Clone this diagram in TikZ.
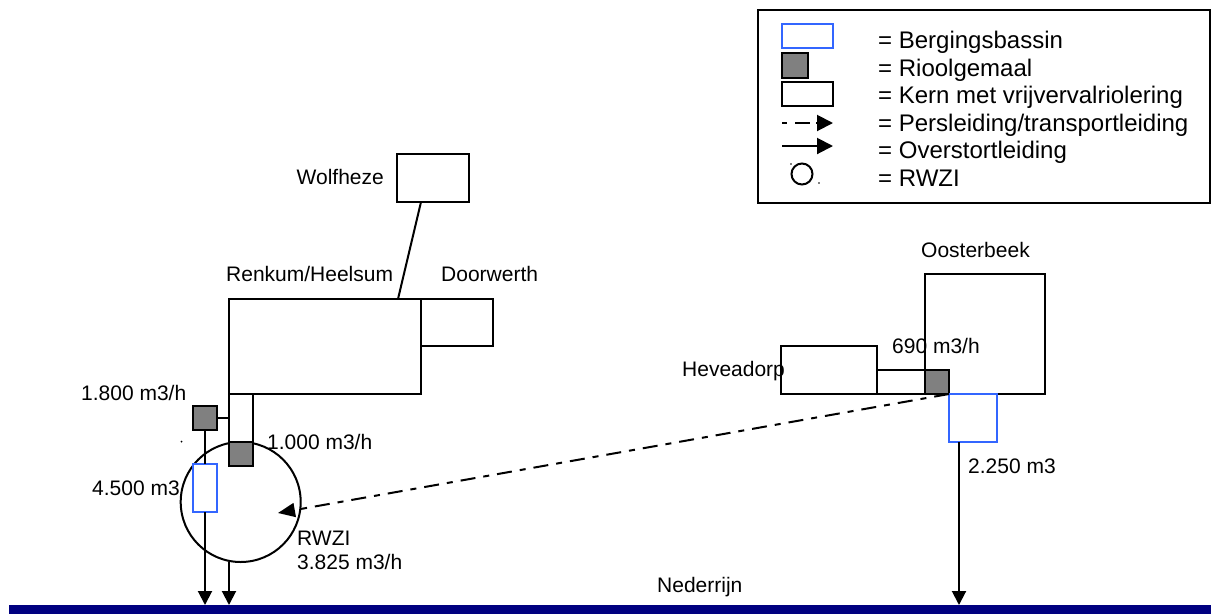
\documentclass[tikz,border=0pt]{standalone}
\usepackage{fontspec}
\setmainfont{Liberation Sans}
\usetikzlibrary{arrows.meta,calc}
\definecolor{bassinblue}{RGB}{51,102,255}
\definecolor{gemaalgray}{RGB}{128,128,128}
\definecolor{rivernavy}{RGB}{0,0,128}
\tikzset{
  pipe/.style={line width=2pt},
  kern/.style={draw, line width=2pt, fill=white, inner sep=0pt, outer sep=0pt},
  gemaal/.style={kern, fill=gemaalgray, minimum width=24pt, minimum height=24pt},
  bassin/.style={draw=bassinblue, line width=2pt, fill=white, inner sep=0pt, outer sep=0pt},
  rwzi/.style={circle, draw, line width=2pt, inner sep=0pt, outer sep=0pt},
  lbl/.style={inner sep=0pt, font=\fontsize{21pt}{25pt}\selectfont, text height=15pt, text depth=0pt},
  legtext/.style={inner sep=0pt, font=\fontsize{24pt}{28pt}\selectfont, text height=17pt, text depth=0pt},
  overstort/.style={pipe, -{Triangle[length=14pt,width=14pt]}},
  pers/.style={pipe, dash pattern=on 15pt off 8pt on 6pt off 8pt, -{Triangle[length=17pt,width=14pt]}},
}
\begin{document}
\begin{tikzpicture}[x=1pt, y=-1pt]
\useasboundingbox (0,0) rectangle (1211,614);

% Nederrijn
\node[fill=rivernavy, inner sep=0pt, outer sep=0pt, minimum width=1202pt, minimum height=9pt, anchor=north west] (river) at (9,605) {};
\node[lbl, anchor=west] (nederrijn) at (657,585) {Nederrijn};

% Legend
\node[draw, line width=2pt, inner sep=0pt, minimum width=452pt, minimum height=193pt, anchor=north west] (legend) at (757,9) {};
\node[bassin, minimum width=51pt, minimum height=24pt] (lgbassin) at (807.5,36) {};
\node[gemaal, minimum width=26pt, minimum height=25pt] (lggemaal) at (795,65.5) {};
\node[kern, minimum width=51pt, minimum height=24pt] (lgkern) at (807.5,94) {};
\coordinate (lgpa) at (782,123);
\coordinate (lgpb) at (833,123);
\draw[pipe, dash pattern=on 5pt off 8pt on 15pt off 6pt, -{Triangle[length=16pt,width=16pt]}] (lgpa) -- (lgpb);
\coordinate (lgoa) at (782,146);
\coordinate (lgob) at (833,146);
\draw[overstort, -{Triangle[length=16pt,width=16pt]}] (lgoa) -- (lgob);
\node[rwzi, minimum size=21pt] (lgrwzi) at (802,174) {};
\fill (791,164) circle (0.9pt) (819,183) circle (0.9pt);
\node[legtext, anchor=west] (t1) at (878,40) {= Bergingsbassin};
\node[legtext, anchor=west] (t2) at (878,68) {= Rioolgemaal};
\node[legtext, anchor=west] (t3) at (878,95) {= Kern met vrijvervalriolering};
\node[legtext, anchor=west] (t4) at (878,123) {= Persleiding/transportleiding};
\node[legtext, anchor=west] (t5) at (878,150) {= Overstortleiding};
\node[legtext, anchor=west] (t6) at (878,178) {= RWZI};

% Renkum side
\node[kern, minimum width=72pt, minimum height=48pt] (wolf) at (433,178) {};
\node[lbl, anchor=east] (wolflbl) at (384,177) {Wolfheze};
\node[kern, minimum width=192pt, minimum height=95pt] (renkum) at (325,346.5) {};
\node[lbl, anchor=west] (renkumlbl) at (226,273.5) {Renkum/Heelsum};
\node[kern, minimum width=72pt, minimum height=47pt] (doorw) at (457,322.5) {};
\node[lbl, anchor=west] (doorwlbl) at (441,273.5) {Doorwerth};
\draw[pipe] ($(wolf.south)+(-12,0)$) -- ($(renkum.north)+(73,0)$);

\node[rwzi, minimum size=120pt] (rwzi) at (240.7,502) {};
\fill (181.5,441.5) circle (1pt);
\node[kern, minimum width=24pt, minimum height=48pt] (conn1) at (241,418) {};
\node[gemaal] (gem2) at (241,454) {};
\node[gemaal] (gem1) at (205,418) {};
\node[bassin, minimum width=24pt, minimum height=48pt] (bas1) at (205,488) {};
\draw[pipe] (gem1.east) -- (gem1.east -| conn1.west);
\draw[pipe] (gem1.south) -- (bas1.north);
\draw[overstort] (bas1.south) -- (bas1.south |- river.north);
\draw[overstort] (gem2.south west |- rwzi.south) -- (gem2.south west |- river.north);

\node[lbl, anchor=west] (q1800) at (81,393) {1.800 m3/h};
\node[lbl, anchor=west] (q1000) at (267,442) {1.000 m3/h};
\node[lbl, anchor=west] (v4500) at (92,488) {4.500 m3};
\node[lbl, anchor=west] (rwzilbl) at (297,537.5) {RWZI};
\node[lbl, anchor=west] (q3825) at (297,561.5) {3.825 m3/h};

% Oosterbeek side
\node[kern, minimum width=120pt, minimum height=120pt] (oost) at (985,334) {};
\node[lbl, anchor=west] (oostlbl) at (921,249.5) {Oosterbeek};
\node[kern, minimum width=96pt, minimum height=48pt] (hev) at (829,370) {};
\node[kern, minimum width=48pt, minimum height=24pt] (conn2) at (901,382) {};
\node[gemaal] (gem3) at (937,382) {};
\node[bassin, minimum width=48pt, minimum height=48pt] (bas2) at (973,418) {};
\node[lbl, anchor=west] (hevlbl) at (682,368.5) {Heveadorp};
\node[lbl, anchor=west] (q690) at (892,345.5) {690 m3/h};
\node[lbl, anchor=west] (v2250) at (968,465.5) {2.250 m3};
\coordinate (bas2out) at ($(bas2.south west)+(10,0)$);
\draw[overstort] (bas2out) -- (bas2out |- river.north);

% transport main to the RWZI
\coordinate (inlet) at (278,513);
\draw[pers] (gem3.south east) -- (inlet);
\end{tikzpicture}
\end{document}
